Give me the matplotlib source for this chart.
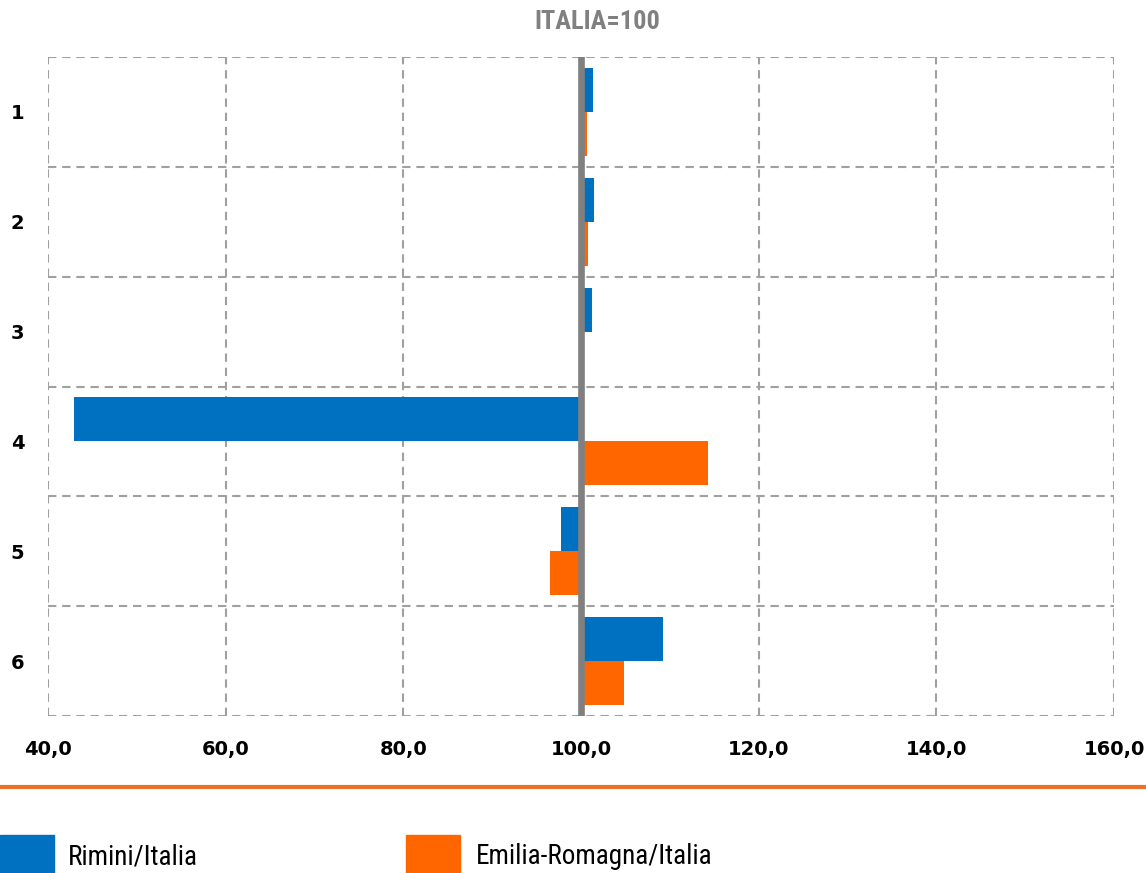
import matplotlib
matplotlib.use("Agg")
import matplotlib.pyplot as plt
from matplotlib.patches import Rectangle
from matplotlib.lines import Line2D
from matplotlib import font_manager as fm
import numpy as np

categories = ["1", "2", "3", "4", "5", "6"]
series_names = ["Rimini/Italia", "Emilia-Romagna/Italia"]
rimini = [101.35, 101.5, 101.2, 42.9, 97.7, 109.2]
emilia = [100.7, 100.75, 100.1, 114.3, 96.55, 104.8]
x_ticks = [40, 60, 80, 100, 120, 140, 160]
x_tick_labels = ["40,0", "60,0", "80,0", "100,0", "120,0", "140,0", "160,0"]
title = "ITALIA=100"

BLUE = "#0070C0"
ORANGE = "#FF6600"
GRAY = "#808080"
GRID = "#A0A0A0"

# pick a narrow/condensed font if one is installed
narrow = None
for pref in ["Liberation Sans Narrow", "Arial Narrow", "Roboto Condensed", "Open Sans Condensed"]:
    if any(f.name == pref for f in fm.fontManager.ttflist):
        narrow = pref
        break
stretch = "normal"
if narrow is None:
    cond = [f for f in fm.fontManager.ttflist if f.stretch in ("condensed", "semi-condensed", "extra-condensed", "ultra-condensed")]
    if cond:
        narrow = cond[0].name
        stretch = "condensed"
if narrow is None:
    narrow = "Liberation Sans"
NARROW = [narrow, "DejaVu Sans"]
WIDE = ["DejaVu Sans"]

W, H = 1146, 873
fig = plt.figure(figsize=(W / 100, H / 100), dpi=100)
ax = fig.add_axes([48 / W, 1 - 716 / H, (1114 - 48) / W, (716 - 57) / H])

y = np.arange(len(categories))
base = 100
ax.barh(y - 0.2, np.array(rimini) - base, left=base, height=0.4, color=BLUE, zorder=3)
ax.barh(y + 0.2, np.array(emilia) - base, left=base, height=0.4, color=ORANGE, zorder=3)

ax.set_xlim(40, 160)
ax.set_ylim(len(categories) - 0.5, -0.5)

for xv in x_ticks:
    ax.axvline(xv, color=GRID, ls=(0, (4, 2.8)), lw=1.5, zorder=1)
for yv in np.arange(-0.5, len(categories), 1.0):
    ax.axhline(yv, color=GRID, ls=(0, (4, 2.8)), lw=1.5, zorder=1)

ax.axvline(base, color=GRAY, lw=4.8, zorder=4)

for s in ax.spines.values():
    s.set_visible(False)

ax.set_xticks(x_ticks)
ax.set_xticklabels(x_tick_labels, fontsize=14, fontweight="bold", family=WIDE)
ax.set_yticks(y)
ax.set_yticklabels(categories, fontsize=14, fontweight="bold", family=WIDE)
ax.tick_params(axis="x", length=0, pad=17)
ax.tick_params(axis="y", length=0, pad=17)

fig.text(597 / W, 1 - 22 / H, title, ha="center", va="center", fontsize=19,
         fontweight="bold", color=GRAY, family=NARROW, stretch=stretch)

fig.add_artist(Line2D([0, 1], [1 - 787 / H, 1 - 787 / H], color="#EB7126", lw=3))

legend_items = [(0, 68, BLUE), (406, 476, ORANGE)]
for (bx, tx, col), name in zip(legend_items, series_names):
    fig.add_artist(Rectangle((bx / W, 1 - 875 / H), 54 / W, 40 / H, color=col,
                             transform=fig.transFigure))
    fig.text(tx / W, 1 - 857 / H, name, ha="left", va="center", fontsize=19.5,
             family=NARROW, stretch=stretch)

fig.savefig("out.png", dpi=100)
